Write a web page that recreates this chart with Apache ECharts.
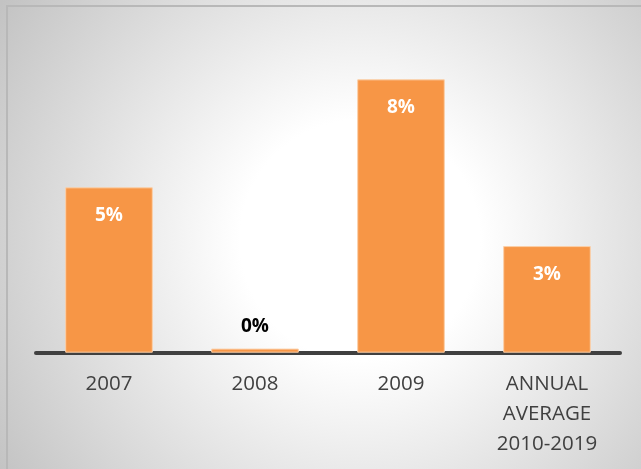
<!DOCTYPE html>
<html>
<head>
<meta charset="utf-8">
<script src="https://cdn.jsdelivr.net/npm/echarts@6/dist/echarts.min.js"></script>
<style>
  html, body { margin: 0; padding: 0; }
  body {
    width: 641px; height: 469px; overflow: hidden; position: relative;
    background: radial-gradient(circle 430px at 360px 240px, #ffffff 0, #ffffff 120px, #c3c3c3 430px);
  }
  #chart { position: absolute; left: 0; top: 0; width: 641px; height: 469px; }
  .edge { position: absolute; background: #b8b8b8; }
</style>
</head>
<body>
<div class="edge" style="left:6px; top:5px; width:1.5px; height:464px;"></div>
<div class="edge" style="left:6px; top:5px; width:635px; height:1.5px;"></div>
<div id="chart"></div>
<script>
// Year-over-year change, in percent
const categories = ['2007', '2008', '2009', 'ANNUAL\nAVERAGE\n2010-2019'];
const values = [4.84, 0.12, 8.0, 3.12];

const chart = echarts.init(document.getElementById('chart'), null, { renderer: 'canvas' });

const barData = values.map((v, i) => {
  const item = { value: v };
  if (v < 0.5) {
    // tiny bar: put the label above it in dark text
    item.label = { position: 'top', distance: 13, color: '#000000' };
  }
  return item;
});

chart.setOption({
  backgroundColor: 'transparent',
  animation: false,
  grid: { left: 36, right: 21, top: 11, bottom: 116.3, containLabel: false },
  xAxis: {
    type: 'category',
    data: categories,
    axisLine: { show: true, lineStyle: { color: '#404040', width: 4 } },
    axisTick: { show: false },
    axisLabel: {
      color: '#404040',
      fontFamily: 'Open Sans',
      fontSize: 20.5,
      lineHeight: 30,
      margin: 16,
      interval: 0
    }
  },
  yAxis: {
    type: 'value',
    min: 0,
    max: 10,
    show: false,
    splitLine: { show: false }
  },
  series: [{
    type: 'bar',
    data: barData,
    barCategoryGap: '40%',
    itemStyle: { color: '#F79646', borderColor: '#FBCFA8', borderWidth: 1 },
    label: {
      show: true,
      position: 'insideTop',
      distance: 19,
      color: '#ffffff',
      fontFamily: 'Open Sans',
      fontWeight: 'bold',
      fontSize: 19,
      formatter: p => Math.round(p.value) + '%'
    }
  }]
});
</script>
</body>
</html>
